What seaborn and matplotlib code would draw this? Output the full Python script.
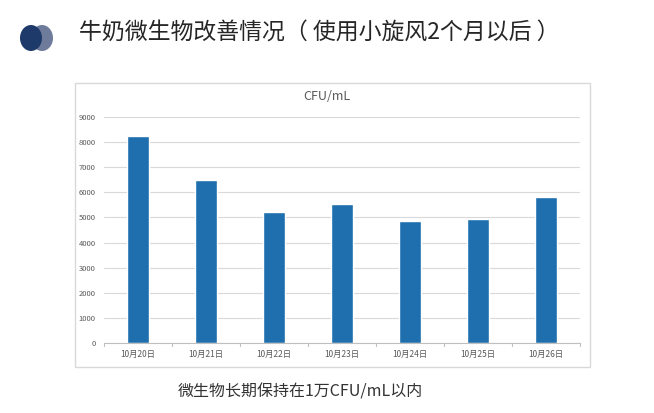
import matplotlib
matplotlib.use("Agg")
import matplotlib.pyplot as plt
import seaborn as sns
import pandas as pd
from matplotlib.patches import Ellipse, Rectangle

dates = ["10月20日", "10月21日", "10月22日", "10月23日", "10月24日", "10月25日", "10月26日"]
cfu = [8250, 6500, 5230, 5550, 4850, 4950, 5820]
yticks = [0, 1000, 2000, 3000, 4000, 5000, 6000, 7000, 8000, 9000]

sns.set_theme(style="white")
plt.rcParams['font.family'] = ['Noto Sans CJK SC', 'DejaVu Sans']

W, H = 654, 413
fig = plt.figure(figsize=(W / 100, H / 100), dpi=100)
fig.patch.set_facecolor("white")

def fx(x): return x / W
def fy(y): return 1 - y / H

# chart frame
fig.patches.append(Rectangle((fx(75), fy(367)), fx(590) - fx(75), fy(83) - fy(367),
                             transform=fig.transFigure, fill=False,
                             edgecolor="#d9d9d9", linewidth=1))

# decorative circles
fig.patches.append(Ellipse((fx(42), fy(38)), 22 / W, 26 / H, transform=fig.transFigure,
                           facecolor="#6e7b9b", edgecolor="none"))
fig.patches.append(Ellipse((fx(31), fy(38)), 22 / W, 26 / H, transform=fig.transFigure,
                           facecolor="#1e3a6b", edgecolor="none"))

fig.text(fx(79), fy(32), "牛奶微生物改善情况（ 使用小旋风2个月以后 ）", fontsize=16.5,
         color="#262626", va="center", ha="left")

ax = fig.add_axes([fx(104), fy(343), fx(580) - fx(104), fy(117) - fy(343)])
df = pd.DataFrame({"date": dates, "cfu": cfu})
sns.barplot(data=df, x="date", y="cfu", ax=ax, color="#1f6fae", saturation=1, width=0.31)

ax.set_ylim(0, 9000)
ax.set_yticks(yticks)
ax.set_yticklabels([str(v) for v in yticks], fontsize=5.5, color="#595959")
ax.tick_params(axis="y", length=0, pad=6)
ax.tick_params(axis="x", length=0, labelsize=6, labelcolor="#595959", pad=5)
ax.set_xlabel("")
ax.set_ylabel("")
ax.grid(axis="y", color="#d9d9d9", linewidth=0.8)
ax.set_axisbelow(True)
for s in ["top", "right", "left"]:
    ax.spines[s].set_visible(False)
ax.spines["bottom"].set_color("#bfbfbf")
ax.spines["bottom"].set_linewidth(0.8)
ax.set_xlim(-0.5, len(dates) - 0.5)
# category separator ticks
for i in range(len(dates) + 1):
    ax.plot([i - 0.5, i - 0.5], [0, -120], color="#bfbfbf", linewidth=0.8, clip_on=False)

fig.text(fx(327), fy(96), "CFU/mL", fontsize=9, color="#595959", ha="center", va="center")

fig.text(fx(300), fy(392), "微生物长期保持在1万CFU/mL以内", fontsize=11.5,
         color="#333333", ha="center", va="center")

fig.savefig("out.png", dpi=100)
